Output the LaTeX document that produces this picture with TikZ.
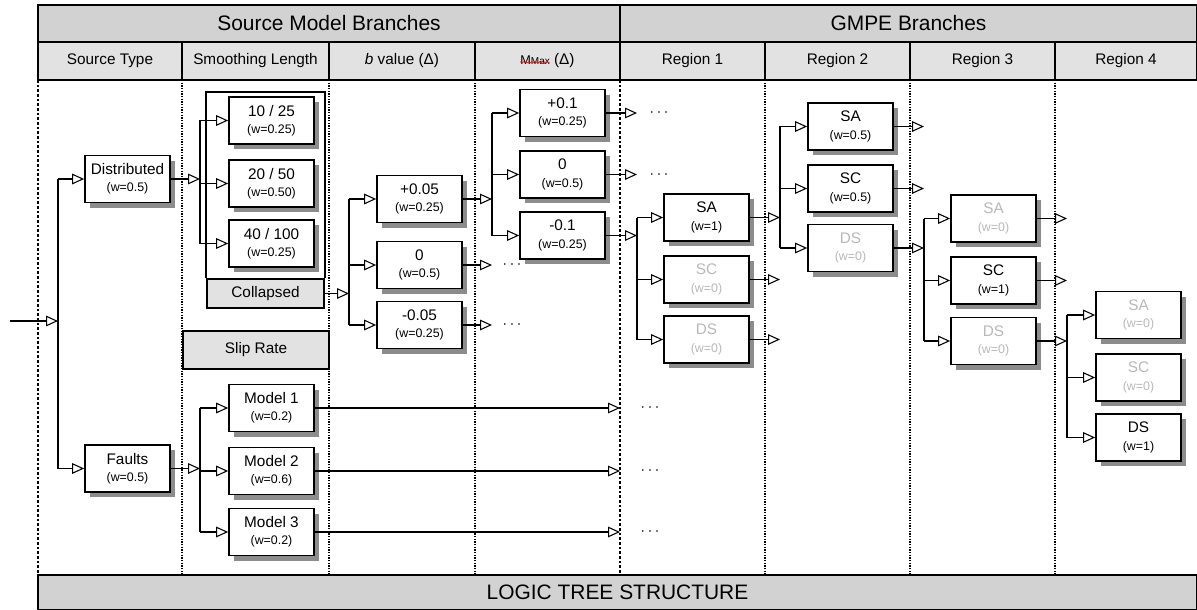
\documentclass[tikz,border=0pt]{standalone}
\usepackage{fontspec}
\setmainfont{Liberation Sans}
\usepackage{tikz}
\usetikzlibrary{arrows.meta}
\usetikzlibrary{shadows}
\usetikzlibrary{decorations.pathmorphing}
\usetikzlibrary{positioning}

\definecolor{hdrgray}{RGB}{210,210,210}
\definecolor{subgray}{RGB}{226,226,226}
\definecolor{offgray}{RGB}{184,184,184}
\definecolor{shadgray}{RGB}{140,140,140}
\newcommand{\wgt}[1]{\\{\fontsize{9.3}{13}\selectfont (w=#1)}}

\tikzset{
  brbox/.style={draw, line width=1.3pt, fill=white, minimum width=63.75pt, minimum height=35.25pt,
    inner sep=0pt, align=center, font=\fontsize{11.5}{13}\selectfont,
    drop shadow={shadow xshift=3.8pt, shadow yshift=-4pt, fill=shadgray, opacity=1}},
  offbox/.style={brbox, text=offgray},
  graybar/.style={draw, line width=1.3pt, fill=subgray, inner sep=0pt, font=\fontsize{11.5}{13}\selectfont},
  toprow/.style={draw, line width=1.2pt, fill=hdrgray, inner sep=0pt, minimum height=27.75pt, font=\fontsize{15.7}{17}\selectfont},
  subcell/.style={draw, line width=1.2pt, fill=subgray},
  tri/.style={line width=1.1pt, -{Triangle[open, length=9pt, width=8pt, line width=0.8pt]}},
  lnk/.style={line width=1.1pt},
  dotsty/.style={inner sep=0pt, anchor=west, font=\fontsize{12}{12}\selectfont},
  coldot/.style={densely dotted, line width=1pt},
  coldash/.style={dash pattern=on 2pt off 1.5pt, line width=1.2pt},
  squig/.style={red, line width=0.4pt, decorate, decoration={snake, amplitude=0.5pt, segment length=2pt}}
}

\begin{document}
\begin{tikzpicture}[x=0.75pt,y=0.75pt,yscale=-1,xscale=1]
\useasboundingbox (0,0) rectangle (1197,610);

\node[toprow, minimum width=436.5pt] (hsm) at (329,23.5) {Source Model Branches};
\node[toprow, minimum width=432.75pt] (hgm) at (908.5,23.5) {GMPE Branches};
\foreach \xa/\xb/\nm/\lbl in {38/182/hst/{Source Type}, 182/329/hsl/{Smoothing Length},
    329/475/hbv/{\textit{b} value (Δ)},
    475/620/hmx/{{\fontsize{9.5}{10}\selectfont M}{\fontsize{7.5}{8}\selectfont Max}~(Δ)},
    620/765/hra/{Region 1}, 765/910/hrb/{Region 2}, 910/1055/hrc/{Region 3}, 1055/1197/hrd/{Region 4}}{
  \draw[subcell] (\xa,42) rectangle (\xb,80);
  \node[inner sep=0pt, font=\fontsize{11.5}{13}\selectfont] (\nm) at ({(\xa+\xb)/2},61) {\lbl};
}
\draw[squig] ([yshift=-2pt]hmx.base west) -- ++(29.5,0);
\node[toprow, minimum width=869.25pt, minimum height=26.25pt] (ltree) at (617.5,592.5) {LOGIC TREE STRUCTURE};

\foreach \cx in {182,329,475,765,910,1055} \draw[coldot] (\cx,80) -- (\cx,575);
\foreach \cx in {38,620} \draw[coldash] (\cx,80) -- (\cx,575);

\node[brbox] (dist) at (127.5,179) {Distributed\wgt{0.5}};
\node[brbox] (faults) at (127.5,468.5) {Faults\wgt{0.5}};

\node[graybar, minimum width=87.75pt, minimum height=21.75pt] (coll) at (265.5,293.5) {Collapsed};
\coordinate (smtop) at (0,92);
\draw[line width=1.3pt] (coll.north west) -- (coll.north west |- smtop) -- (coll.north east |- smtop) -- (coll.north east);
\node[brbox] (s10) at (271.5,120.5) {10 / 25\wgt{0.25}};
\node[brbox] (s20) at (271.5,183.5) {20 / 50\wgt{0.50}};
\node[brbox] (s40) at (271.5,243.5) {40 / 100\wgt{0.25}};
\node[graybar, minimum width=109.5pt, minimum height=28.5pt] (slip) at (256,350) {Slip Rate};
\node[brbox] (m1) at (271.5,408) {Model 1\wgt{0.2}};
\node[brbox] (m2) at (271.5,471) {Model 2\wgt{0.6}};
\node[brbox] (m3) at (271.5,532) {Model 3\wgt{0.2}};

\node[brbox] (b1) at (419.5,199) {+0.05\wgt{0.25}};
\node[brbox] (b2) at (419.5,265) {0\wgt{0.5}};
\node[brbox] (b3) at (419.5,325) {-0.05\wgt{0.25}};

\node[brbox] (x1) at (562.5,113) {+0.1\wgt{0.25}};
\node[brbox] (x2) at (562.5,174.5) {0\wgt{0.5}};
\node[brbox] (x3) at (562.5,235.5) {-0.1\wgt{0.25}};

\node[brbox] (r1a) at (706.5,217.5) {SA\wgt{1}};
\node[offbox] (r1b) at (706.5,279.5) {SC\wgt{0}};
\node[offbox] (r1c) at (706.5,339.5) {DS\wgt{0}};

\node[brbox] (r2a) at (850.5,126.5) {SA\wgt{0.5}};
\node[brbox] (r2b) at (850.5,188.5) {SC\wgt{0.5}};
\node[offbox] (r2c) at (850.5,248) {DS\wgt{0}};

\node[offbox] (r3a) at (993.5,218.5) {SA\wgt{0}};
\node[brbox] (r3b) at (993.5,280.5) {SC\wgt{1}};
\node[offbox] (r3c) at (993.5,341) {DS\wgt{0}};

\node[offbox] (r4a) at (1138.5,315) {SA\wgt{0}};
\node[offbox] (r4b) at (1138.5,377.5) {SC\wgt{0}};
\node[brbox] (r4c) at (1138.5,437.5) {DS\wgt{1}};

\coordinate (root) at (10,321);
\coordinate (j0) at (58,321);
\coordinate (js) at (200,0);
\coordinate (jb) at (349,0);
\coordinate (jm) at (492,0);
\coordinate (jg) at (620,0);
\coordinate (j1) at (637,0);
\coordinate (j2) at (780,0);
\coordinate (j3) at (924,0);
\coordinate (j4) at (1067,0);

\draw[tri] (root) -- (j0);
\draw[lnk] (j0 |- dist) -- (j0 |- faults);
\draw[tri] (j0 |- dist) -- (dist);
\draw[tri] (j0 |- faults) -- (faults);

\draw[tri] (dist) -- (dist -| js);
\draw[lnk] (s10 -| js) -- (s40 -| js);
\foreach \n in {s10,s20,s40} \draw[tri] (\n -| js) -- (\n);

\draw[tri] (faults) -- (faults -| js);
\draw[lnk] (m1 -| js) -- (m3 -| js);
\foreach \n in {m1,m2,m3} \draw[tri] (\n -| js) -- (\n);

\draw[tri] (coll) -- (coll -| jb);
\draw[lnk] (b1 -| jb) -- (b3 -| jb);
\foreach \n in {b1,b2,b3} \draw[tri] (\n -| jb) -- (\n);

\draw[tri] (b1) -- (b1 -| jm);
\draw[lnk] (x1 -| jm) -- (x3 -| jm);
\foreach \n in {x1,x2,x3} \draw[tri] (\n -| jm) -- (\n);
\draw[tri] (b2) -- (b2 -| jm) node[dotsty, right=7.5pt] (db2) {$\cdots$};
\draw[tri] (b3) -- (b3 -| jm) node[dotsty, right=7.5pt] (db3) {$\cdots$};

\draw[tri] (x1) -- (x1 -| j1) node[dotsty, right=9pt] (dx1) {$\cdots$};
\draw[tri] (x2) -- (x2 -| j1) node[dotsty, right=9pt] (dx2) {$\cdots$};
\draw[tri] (x3) -- (x3 -| j1);
\draw[lnk] (r1a -| j1) -- (r1c -| j1);
\foreach \n in {r1a,r1b,r1c} \draw[tri] (\n -| j1) -- (\n);

\foreach \n in {m1,m2,m3} \draw[tri] (\n) -- (\n -| jg) node[dotsty, right=15pt] (d\n) {$\cdots$};

\draw[tri] (r1a) -- (r1a -| j2);
\draw[tri] (r1b) -- (r1b -| j2);
\draw[tri] (r1c) -- (r1c -| j2);
\draw[lnk] (r2a -| j2) -- (r2c -| j2);
\foreach \n in {r2a,r2b,r2c} \draw[tri] (\n -| j2) -- (\n);

\draw[tri] (r2a) -- (r2a -| j3);
\draw[tri] (r2b) -- (r2b -| j3);
\draw[tri] (r2c) -- (r2c -| j3);
\draw[lnk] (r3a -| j3) -- (r3c -| j3);
\foreach \n in {r3a,r3b,r3c} \draw[tri] (\n -| j3) -- (\n);

\draw[tri] (r3a) -- (r3a -| j4);
\draw[tri] (r3b) -- (r3b -| j4);
\draw[tri] (r3c) -- (r3c -| j4);
\draw[lnk] (r4a -| j4) -- (r4c -| j4);
\foreach \n in {r4a,r4b,r4c} \draw[tri] (\n -| j4) -- (\n);
\end{tikzpicture}
\end{document}
